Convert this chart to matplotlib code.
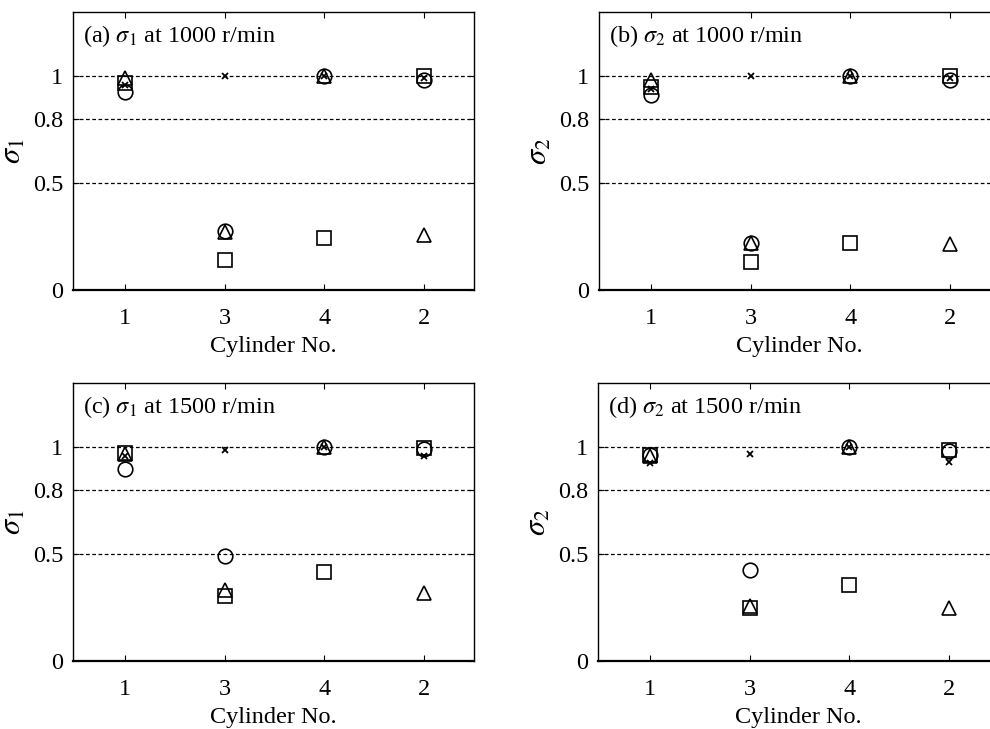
import numpy as np
import matplotlib
matplotlib.use("Agg")
import matplotlib.pyplot as plt

# ----------------------------
# Data
# ----------------------------

cylinders = ["1", "3", "4", "2"]
panel_titles = [r"(a) $\sigma_1$ at 1000 r/min", r"(b) $\sigma_2$ at 1000 r/min",
                r"(c) $\sigma_1$ at 1500 r/min", r"(d) $\sigma_2$ at 1500 r/min"]
panel_ylabels = [r"$\sigma_1$", r"$\sigma_2$", r"$\sigma_1$", r"$\sigma_2$"]

# values per cylinder in plotting order 1, 3, 4, 2
circle_a = [0.925, 0.275, 1.0, 0.98]
square_a = [0.97, 0.14, 0.245, 1.0]
triangle_a = [0.99, 0.27, 1.0, 0.255]
cross_a = [0.96, 1.0, 1.0, 0.99]

circle_b = [0.91, 0.22, 1.0, 0.98]
square_b = [0.95, 0.13, 0.22, 1.0]
triangle_b = [0.98, 0.22, 1.0, 0.215]
cross_b = [0.94, 1.0, 1.0, 0.99]

circle_c = [0.90, 0.49, 1.0, 0.99]
square_c = [0.975, 0.305, 0.415, 0.995]
triangle_c = [0.97, 0.33, 1.0, 0.32]
cross_c = [0.96, 0.985, 1.0, 0.96]

circle_d = [0.965, 0.426, 1.0, 0.98]
square_d = [0.965, 0.25, 0.355, 0.985]
triangle_d = [0.96, 0.256, 1.0, 0.25]
cross_d = [0.925, 0.966, 1.0, 0.93]

panels = [
    (circle_a, square_a, triangle_a, cross_a),
    (circle_b, square_b, triangle_b, cross_b),
    (circle_c, square_c, triangle_c, cross_c),
    (circle_d, square_d, triangle_d, cross_d),
]

yticks = [0, 0.5, 0.8, 1]
ytick_labels = ["0", "0.5", "0.8", "1"]

# ----------------------------
# Style
# ----------------------------

plt.rcParams["font.family"] = ["Liberation Serif", "DejaVu Serif"]
plt.rcParams["mathtext.fontset"] = "stix"
plt.rcParams["font.size"] = 17.5

fig = plt.figure(figsize=(9.9, 7.29), dpi=100)

W, H = 990, 729
boxes = [(73, 12), (599, 12), (73, 383), (598, 383)]  # left, top in pixels
box_w, box_h = 401, 278

x = np.arange(1, len(cylinders) + 1)

for i, (left, top) in enumerate(boxes):
    ax = fig.add_axes([left / W, 1 - (top + box_h) / H, box_w / W, box_h / H])
    circ, sq, tri, cr = panels[i]

    for yv in [0.5, 0.8, 1.0]:
        ax.axhline(yv, color="black", linestyle=(0, (3, 2)), linewidth=0.9, zorder=1)

    ax.plot(x, circ, linestyle="none", marker="o", markersize=10.5,
            markerfacecolor="none", markeredgecolor="black", markeredgewidth=1.2, zorder=3)
    ax.plot(x, sq, linestyle="none", marker="s", markersize=9.5,
            markerfacecolor="none", markeredgecolor="black", markeredgewidth=1.2, zorder=3)
    ax.plot(x, tri, linestyle="none", marker="^", markersize=10.5,
            markerfacecolor="none", markeredgecolor="black", markeredgewidth=1.2, zorder=3)
    ax.plot(x, cr, linestyle="none", marker="x", markersize=5,
            color="black", markeredgewidth=1.3, zorder=3)

    ax.set_xlim(0.48, 4.5)
    ax.set_ylim(0, 1.3)
    ax.set_xticks(x)
    ax.set_xticklabels(cylinders)
    ax.set_yticks(yticks)
    ax.set_yticklabels(ytick_labels)
    ax.tick_params(direction="in", top=True, right=True, length=4, width=0.8)
    ax.tick_params(axis="x", pad=13)
    ax.tick_params(axis="y", pad=7)
    for s in ax.spines.values():
        s.set_linewidth(1.0)
    ax.spines["bottom"].set_linewidth(1.6)

    ax.set_xlabel("Cylinder No.", labelpad=5)
    ax.set_ylabel(panel_ylabels[i], fontsize=22, labelpad=4)
    ax.text(0.025, 0.915, panel_titles[i], transform=ax.transAxes,
            ha="left", va="center", fontsize=17.5)

fig.savefig("out.png", dpi=100)
